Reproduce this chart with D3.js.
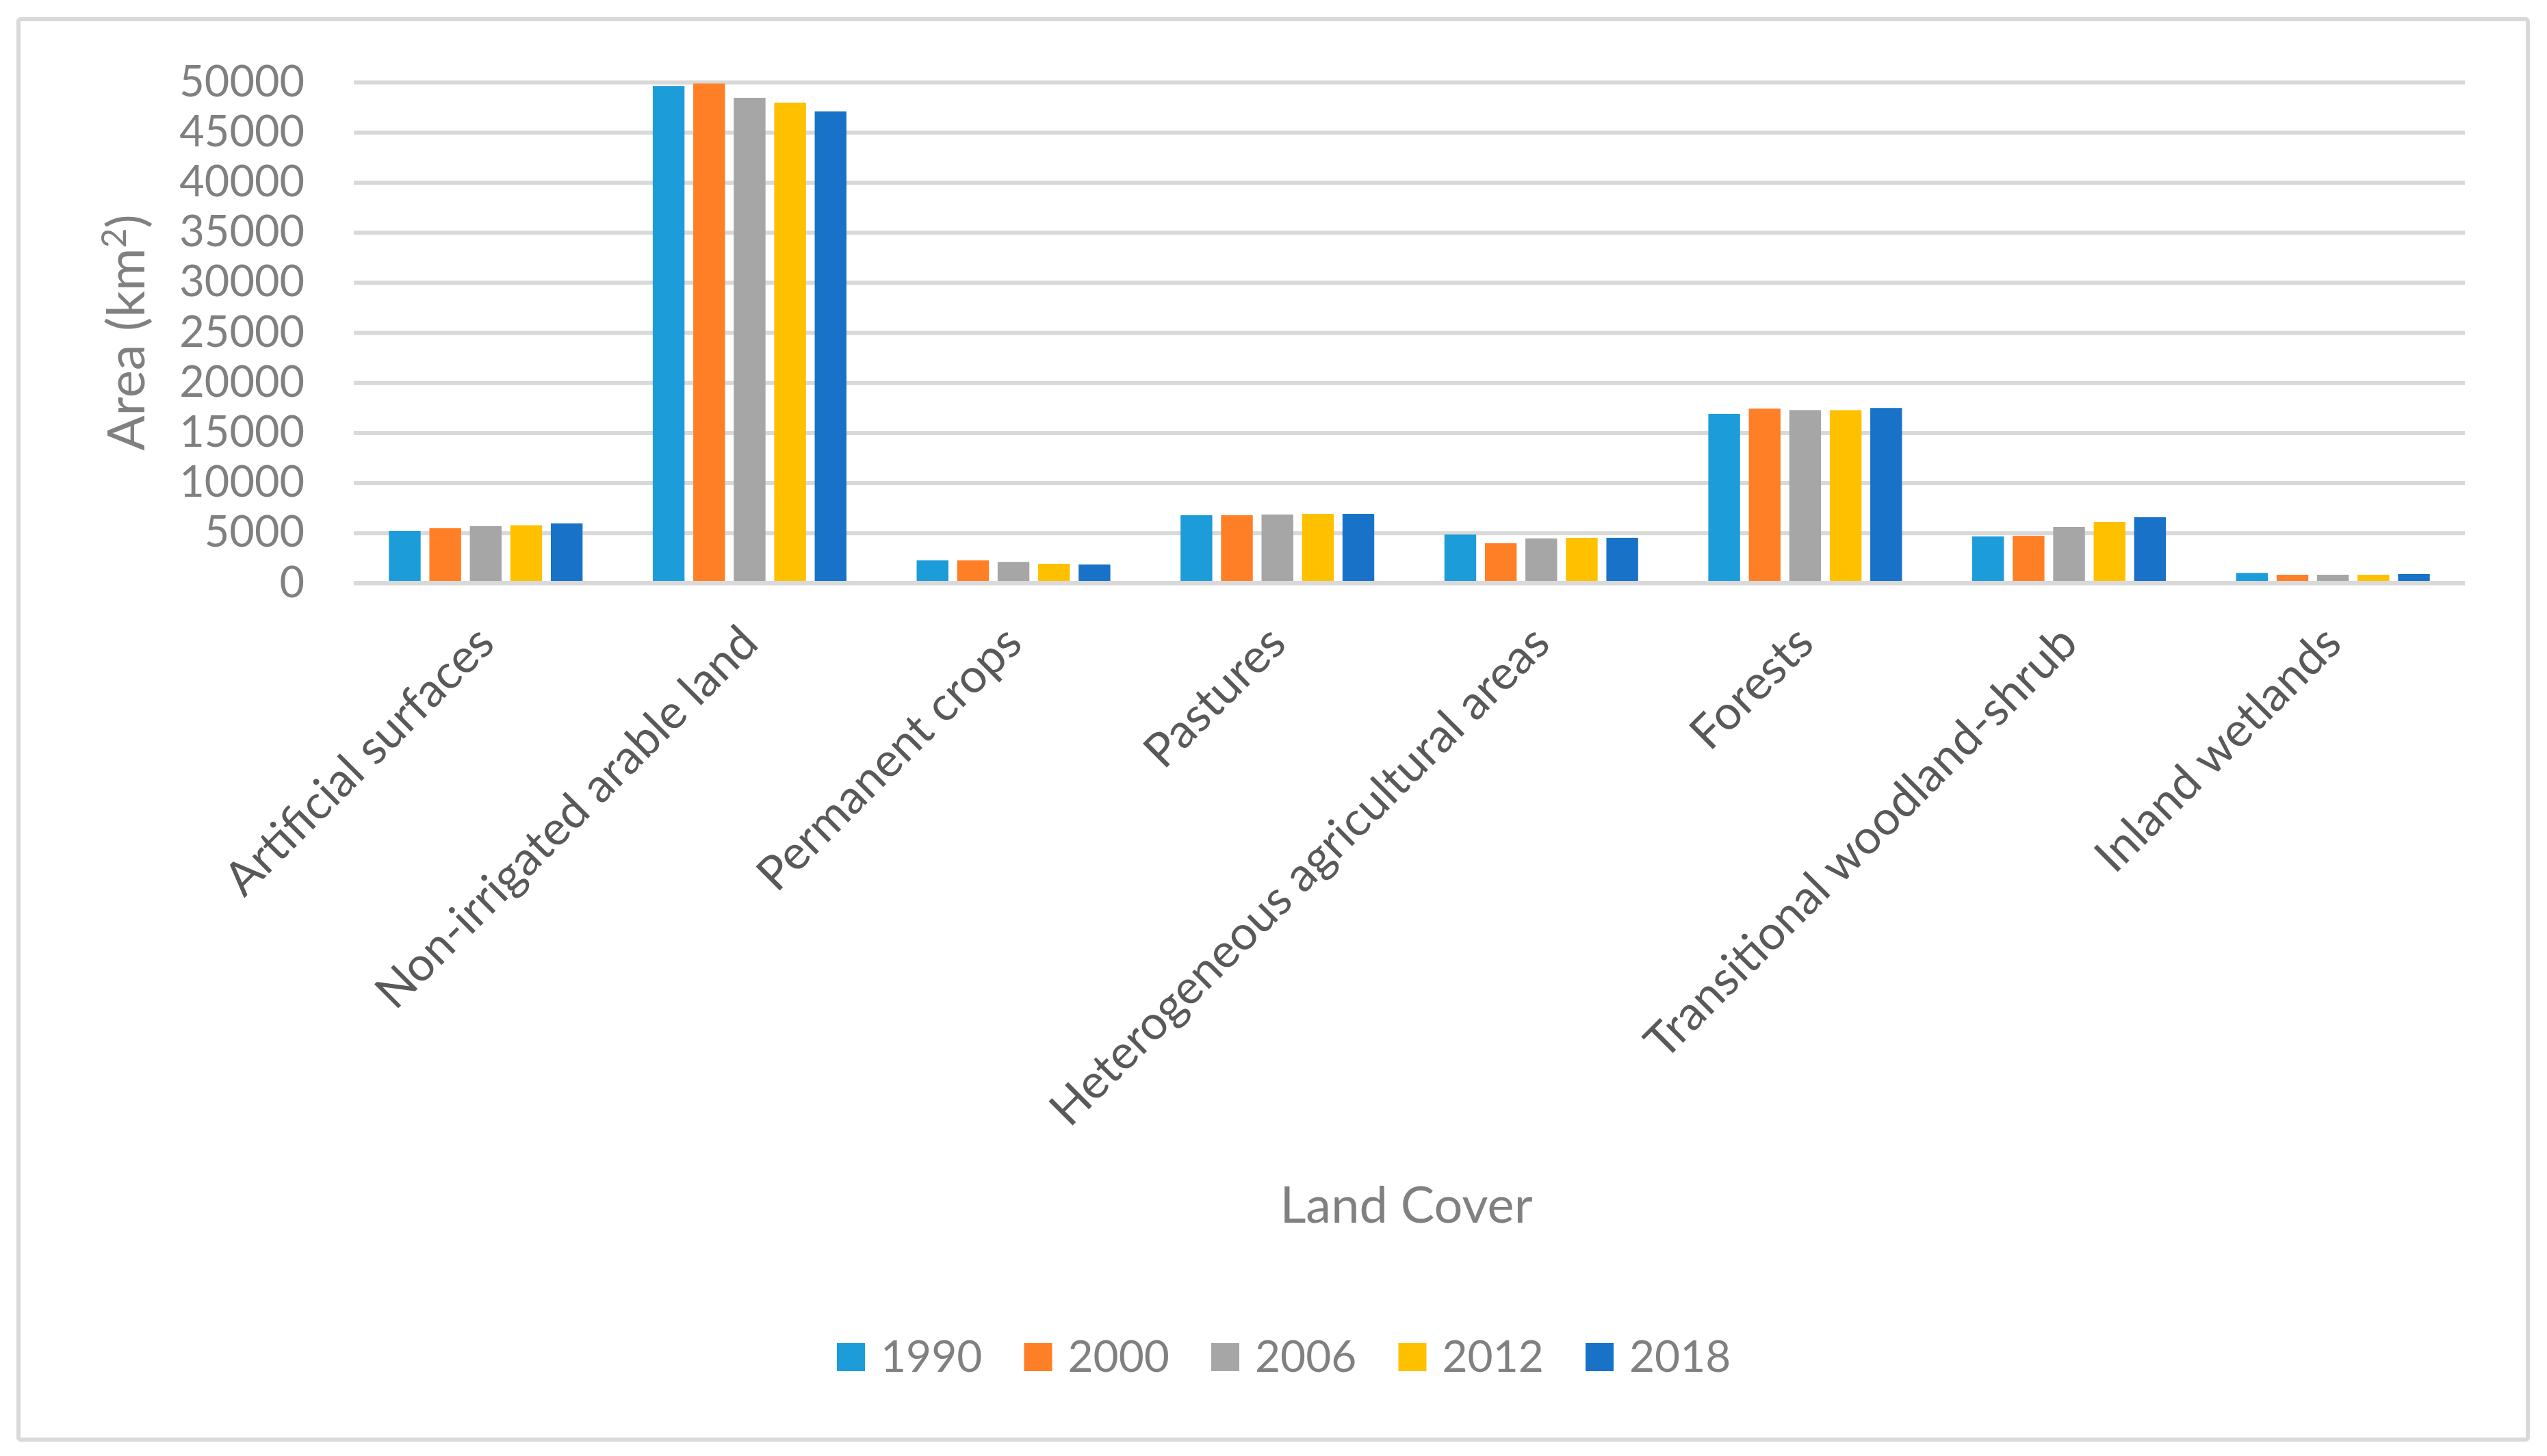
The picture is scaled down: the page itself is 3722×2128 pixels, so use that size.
<!DOCTYPE html>
<html lang="en">
<head>
    <meta charset="UTF-8">
    <title>Land Cover Area by Year</title>
    <style>
        body { margin: 0; background: #fff; }
        text { font-family: Lato, 'Open Sans', sans-serif; }
    </style>
</head>
<body>

    <div id="d3-container"></div>

    <script src="https://d3js.org/d3.v7.min.js"></script>
    <script>
        const categories = ["Artificial surfaces", "Non-irrigated arable land", "Permanent crops", "Pastures",
            "Heterogeneous agricultural areas", "Forests", "Transitional woodland-shrub", "Inland wetlands"];
        const years = ["1990", "2000", "2006", "2012", "2018"];
        const v1990 = [5190, 49590, 2250, 6760, 4830, 16870, 4640, 1000];
        const v2000 = [5460, 49860, 2250, 6760, 3960, 17400, 4710, 820];
        const v2006 = [5670, 48430, 2100, 6830, 4440, 17260, 5600, 820];
        const v2012 = [5760, 47950, 1910, 6900, 4510, 17250, 6080, 820];
        const v2018 = [5940, 47080, 1840, 6900, 4510, 17470, 6560, 890];
        const yTicks = [0, 5000, 10000, 15000, 20000, 25000, 30000, 35000, 40000, 45000, 50000];
        const colors = ["#1c9cd8", "#ff7f27", "#a6a6a6", "#ffc000", "#1872c8"];

        const series = [v1990, v2000, v2006, v2012, v2018];
        const data = categories.map((c, i) => ({ name: c, values: series.map(s => s[i]) }));

        const width = 3722;
        const height = 2128;
        const plot = { left: 517, right: 3602, top: 120, bottom: 852 };

        const svg = d3.select('#d3-container')
            .append('svg')
            .attr('width', width)
            .attr('height', height);

        // outer frame
        svg.append('rect')
            .attr('x', 27).attr('y', 28)
            .attr('width', 3667).attr('height', 2076)
            .attr('rx', 3)
            .attr('fill', '#fff')
            .attr('stroke', '#d9d9d9')
            .attr('stroke-width', 6);

        const x0 = d3.scaleBand()
            .domain(categories)
            .range([plot.left, plot.right])
            .paddingInner(0.266)
            .paddingOuter(0.133);

        const x1 = d3.scaleBand()
            .domain(years)
            .range([0, x0.bandwidth()])
            .paddingInner(0.216);

        const y = d3.scaleLinear()
            .domain([0, 50000])
            .range([plot.bottom, plot.top]);

        // y axis + gridlines
        const yAxis = svg.append('g')
            .attr('transform', `translate(${plot.left},0)`)
            .call(d3.axisLeft(y).tickValues(yTicks).tickFormat(d3.format('d'))
                .tickSize(-(plot.right - plot.left)).tickPadding(72));
        yAxis.select('.domain').remove();
        yAxis.selectAll('line').attr('stroke', '#d9d9d9').attr('stroke-width', 6);
        yAxis.selectAll('text')
            .attr('fill', '#808080')
            .attr('font-size', 63)
            .attr('font-family', "Lato, 'Open Sans', sans-serif");

        // bars
        svg.append('g')
            .selectAll('g')
            .data(data)
            .join('g')
            .attr('transform', d => `translate(${x0(d.name)},0)`)
            .selectAll('rect')
            .data(d => d.values.map((v, i) => ({ year: years[i], v: v, i: i })))
            .join('rect')
            .attr('x', d => x1(d.year))
            .attr('y', d => y(d.v))
            .attr('width', x1.bandwidth())
            .attr('height', d => y(0) - y(d.v))
            .attr('fill', d => colors[d.i]);

        // zero line on top
        svg.append('line')
            .attr('x1', plot.left).attr('x2', plot.right)
            .attr('y1', y(0)).attr('y2', y(0))
            .attr('stroke', '#d9d9d9')
            .attr('stroke-width', 6);

        // x axis labels
        const xAxis = svg.append('g')
            .attr('transform', `translate(0,${plot.bottom})`)
            .call(d3.axisBottom(x0).tickSize(0));
        xAxis.select('.domain').remove();
        xAxis.selectAll('text')
            .attr('y', 0).attr('dy', 0)
            .attr('text-anchor', 'end')
            .attr('transform', 'translate(16,92) rotate(-45)')
            .attr('fill', '#595959')
            .attr('font-size', 69)
            .attr('font-family', "Lato, 'Open Sans', sans-serif");

        // axis titles
        const yTitle = svg.append('text')
            .attr('transform', `translate(211,${(plot.top + plot.bottom) / 2}) rotate(-90)`)
            .attr('text-anchor', 'middle')
            .attr('fill', '#808080')
            .attr('font-size', 76);
        yTitle.append('tspan').text('Area (km');
        yTitle.append('tspan').attr('font-size', 50).attr('dy', -27).text('2');
        yTitle.append('tspan').attr('dy', 27).text(')');

        svg.append('text')
            .attr('x', 2055).attr('y', 1787)
            .attr('text-anchor', 'middle')
            .attr('fill', '#808080')
            .attr('font-size', 74)
            .text('Land Cover');

        // legend
        const lx = d3.scaleBand()
            .domain(years)
            .range([1223, 1223 + 5 * 273.5]);

        const legend = svg.append('g')
            .selectAll('g')
            .data(years)
            .join('g')
            .attr('transform', d => `translate(${lx(d)},1963)`);
        legend.append('rect')
            .attr('width', 41).attr('height', 41)
            .attr('fill', (d, i) => colors[i]);
        legend.append('text')
            .attr('x', 64).attr('y', 42)
            .attr('fill', '#808080')
            .attr('font-size', 64)
            .text(d => d);
    </script>

</body>
</html>
